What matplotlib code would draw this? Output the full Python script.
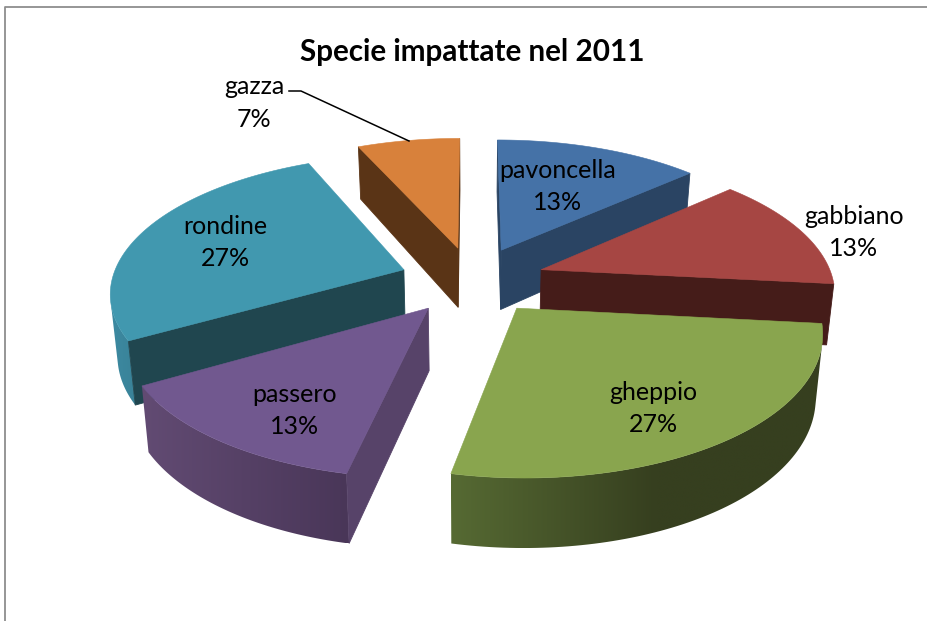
"""Exploded 3D pie: species struck in 2011, projected by hand onto a flat axes."""

import numpy as np
import matplotlib

matplotlib.use("Agg")
import matplotlib.pyplot as plt
from matplotlib.colors import to_rgb
from matplotlib.patches import Polygon

SPECIES = ["pavoncella", "gabbiano", "gheppio", "passero", "rondine", "gazza"]
COUNTS = [2, 2, 4, 2, 4, 1]

TOP_COLORS = ["#4572a7", "#a64643", "#89a54e", "#71588f", "#4198af", "#d8813b"]
WALL_COLORS = ["#2a4463", "#451c19", "#363f1f", "#574369", "#20464f", "#5a3416"]
# outer rim shading, left to right on screen
RIM_LEFT = ["#2a4463", "#451c19", "#566a33", "#624b73", "#3c8aa1", "#5a3416"]
RIM_RIGHT = ["#2a4463", "#451c19", "#363f1f", "#493658", "#3a8298", "#5a3416"]
RIM_SPAN = [1.0, 1.0, 0.55, 1.0, 1.0, 1.0]

# label centres in pixels, name line first
LABEL_POS = [(558, 170), (854, 216), (653, 392), (295, 394), (225, 226), (254, 87)]
LINE_GAP = 32.5

# back to front
DRAW_ORDER = [5, 0, 4, 1, 3, 2]

CX, CY = 472.5, 280.0
RX, RY = 292.0, 135.0
PERSP = 0.15
EXPLODE = 0.25


def project(u, v, low=False):
    """Plane point (u right, v back) -> pixels; low=True gives the bottom face."""
    w = 1 + PERSP * v
    x = u / w * RX
    y = CY - RY * v / w
    if low:
        x = x * 0.98
        y = y + 61 - 7.5 * v
    return CX + x, y


def area(xs, ys):
    return 0.5 * np.sum(xs * np.roll(ys, -1) - np.roll(xs, -1) * ys)


def draw_rim(ax, i, tx, ty, bx, by, z):
    # keep the front facing part of the outer wall, shade it as one image
    keep = []
    for j in range(len(tx) - 1):
        qx = np.array([tx[j], tx[j + 1], bx[j + 1], bx[j]])
        qy = np.array([ty[j], ty[j + 1], by[j + 1], by[j]])
        if area(qx, qy) < 0:
            keep += [j, j + 1]
    if not keep:
        return
    idx = np.unique(keep)
    px = np.r_[tx[idx], bx[idx][::-1]]
    py = np.r_[ty[idx], by[idx][::-1]]
    lo, hi = px.min(), px.max()
    t = np.clip(np.linspace(0, 1, 256) / RIM_SPAN[i], 0, 1)[None, :, None]
    left, right = np.array(to_rgb(RIM_LEFT[i])), np.array(to_rgb(RIM_RIGHT[i]))
    grad = left + (right - left) * t
    im = ax.imshow(grad, extent=(lo, hi, py.max(), py.min()), aspect="auto",
                   interpolation="bilinear", zorder=z)
    im.set_clip_path(Polygon(np.c_[px, py], closed=True, transform=ax.transData))


def draw_slice(ax, i, start, end, z):
    mid = (start + end) / 2
    ou, ov = EXPLODE * np.sin(mid), EXPLODE * np.cos(mid)
    th = np.linspace(start, end, 90)
    u, v = ou + np.sin(th), ov + np.cos(th)
    tx, ty = project(u, v)
    bx, by = project(u, v, low=True)

    draw_rim(ax, i, tx, ty, bx, by, z)

    # cut faces
    ax0, ay0 = project(np.array([ou]), np.array([ov]))
    ax1, ay1 = project(np.array([ou]), np.array([ov]), low=True)
    for k, sign in ((0, -1), (-1, 1)):
        qx = np.array([ax0[0], tx[k], bx[k], ax1[0]])
        qy = np.array([ay0[0], ty[k], by[k], ay1[0]])
        if area(qx, qy) * sign > 0:
            ax.fill(qx, qy, color=WALL_COLORS[i], lw=0.6, zorder=z + 0.1)

    ax.fill(np.r_[ax0, tx], np.r_[ay0, ty], color=TOP_COLORS[i], lw=0.4, zorder=z + 0.2)


def main():
    plt.rcParams["font.family"] = ["Lato", "DejaVu Sans"]
    fig = plt.figure(figsize=(9.28, 6.21), dpi=100)
    ax = fig.add_axes([0, 0, 1, 1])
    ax.axis("off")

    # chart frame, runs off the image on the right and bottom
    ax.plot([5, 5, 928], [621, 7, 7], color="#8e8e8e", lw=1.3, zorder=1)

    counts = np.array(COUNTS, dtype=float)
    edges = np.r_[0, np.cumsum(counts)] / counts.sum() * 2 * np.pi
    for z, i in enumerate(DRAW_ORDER):
        draw_slice(ax, i, edges[i], edges[i + 1], 2 + z)

    for name, n, (x, y) in zip(SPECIES, counts, LABEL_POS):
        pct = f"{n / counts.sum() * 100:.0f}%"
        ax.text(x, y, name, ha="center", va="center", fontsize=18, color="black", zorder=20)
        ax.text(x, y + LINE_GAP, pct, ha="center", va="center", fontsize=18, color="black", zorder=20)

    # leader line for the small slice
    ax.plot([289, 301, 409], [91, 91, 141], color="black", lw=1.1, zorder=20)

    ax.text(472, 52, "Specie impattate nel 2011", ha="center", va="center",
            fontsize=21.3, fontweight="bold", color="black", zorder=20)

    # imshow resets the limits, so set them last
    ax.set_xlim(0, 928)
    ax.set_ylim(621, 0)
    fig.savefig("out.png", dpi=100)


if __name__ == "__main__":
    main()
